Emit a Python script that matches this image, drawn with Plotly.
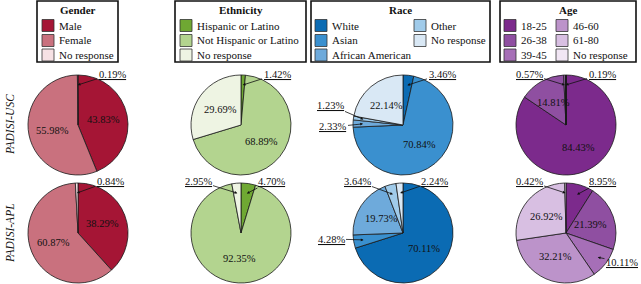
import math
import plotly.graph_objects as go

# ---------------- data ----------------
rows = ["PADISI-USC", "PADISI-APL"]

gender_labels = ["Male", "Female", "No response"]
gender_usc = [43.83, 55.98, 0.19]
gender_apl = [38.29, 60.87, 0.84]

ethnicity_labels = ["Hispanic or Latino", "Not Hispanic or Latino", "No response"]
ethnicity_usc = [1.42, 68.89, 29.69]
ethnicity_apl = [4.70, 92.35, 2.95]

race_labels = ["White", "Asian", "African American", "Other", "No response"]
race_usc = [3.46, 70.84, 2.33, 1.23, 22.14]
race_apl = [70.11, 4.28, 19.73, 3.64, 2.24]

age_labels = ["18-25", "26-38", "39-45", "46-60", "61-80", "No response"]
age_usc = [84.43, 14.81, 0.57, 0.19, 0.0, 0.0]
age_apl = [8.95, 21.39, 10.11, 32.21, 26.92, 0.42]

# ---------------- style ----------------
gender_colors = ["#a51535", "#c9717e", "#f6e1e4"]
ethnicity_colors = ["#6fa833", "#b3d48f", "#eef4e3"]
race_colors = ["#0b6bb3", "#3a90cf", "#6eaadb", "#a0cbea", "#d9e8f5"]
age_colors = ["#7c2a8c", "#8f4fa1", "#a66fb7", "#bc93ca", "#d8bfe2", "#f1e6f4"]

W, H = 641, 284
FONT = "Liberation Serif"
R = 50
ROW_CY = [125, 233]
LEG_ROWS = [25.5, 40.5, 55]

# outside-label placement (text centre offset from pie centre, px)
panels = [
    dict(title="Gender", labels=gender_labels, values=[gender_usc, gender_apl],
         colors=gender_colors, cx=78, box=(37, 118), cols=[42],
         outside=[{"No response": (34, -51)}, {"No response": (32, -52)}]),
    dict(title="Ethnicity", labels=ethnicity_labels, values=[ethnicity_usc, ethnicity_apl],
         colors=ethnicity_colors, cx=241, box=(175, 306), cols=[180],
         outside=[{"Hispanic or Latino": (36, -51)},
                  {"Hispanic or Latino": (30, -52), "No response": (-43, -52)}]),
    dict(title="Race", labels=race_labels, values=[race_usc, race_apl],
         colors=race_colors, cx=403, box=(311, 490), cols=[315, 414],
         outside=[{"White": (39, -51), "Other": (-73, -20), "African American": (-70, 2)},
                  {"Asian": (-72, 6), "Other": (-46, -52), "No response": (32, -52)}]),
    dict(title="Age", labels=age_labels, values=[age_usc, age_apl],
         colors=age_colors, cx=566, box=(500, 636), cols=[504, 556],
         outside=[{"39-45": (-37, -51), "46-60": (36, -51)},
                  {"No response": (-37, -52), "18-25": (36, -52), "39-45": (56, 29)}]),
]


def px(x):
    return x / W


def py(y):
    return 1 - y / H


fig = go.Figure()
annotations = []
shapes = []
lab_font = dict(family=FONT, size=10.5, color="#111")

for p in panels:
    for row, vals in enumerate(p["values"]):
        cx, cy = p["cx"], ROW_CY[row]
        fig.add_trace(go.Pie(
            labels=p["labels"], values=vals, sort=False, direction="clockwise",
            rotation=0, textinfo="none", hoverinfo="label+percent", showlegend=False,
            marker=dict(colors=p["colors"], line=dict(color="#1a1a1a", width=0.8)),
            domain=dict(x=[px(cx - R), px(cx + R)], y=[py(cy + R), py(cy - R)]),
        ))
        total = sum(vals)
        cum = 0.0
        for lab, v in zip(p["labels"], vals):
            if v <= 0:
                continue
            mid = 2 * math.pi * (cum + v / 2) / total
            cum += v
            txt = f"{v:.2f}%"
            if lab in p["outside"][row]:
                dx, dy = p["outside"][row][lab]
                tx = cx + 0.8 * R * math.sin(mid)
                ty = cy - 0.8 * R * math.cos(mid)
                annotations.append(dict(
                    x=px(tx), y=py(ty), xref="paper", yref="paper",
                    text=f"<u>{txt}</u>", showarrow=True,
                    ax=cx + dx - tx, ay=cy + dy - ty,
                    arrowhead=2, arrowsize=0.7, arrowwidth=0.8, arrowcolor="#111",
                    standoff=0, font=lab_font))
            else:
                annotations.append(dict(
                    x=px(cx + 0.52 * R * math.sin(mid)),
                    y=py(cy - 0.52 * R * math.cos(mid)),
                    xref="paper", yref="paper", text=txt, showarrow=False,
                    xanchor="center", yanchor="middle", font=lab_font))

    # legend box
    b0, b1 = p["box"]
    shapes.append(dict(type="rect", xref="paper", yref="paper",
                       x0=px(b0), x1=px(b1), y0=py(62), y1=py(1),
                       line=dict(color="#111", width=1.6), fillcolor="rgba(0,0,0,0)"))
    annotations.append(dict(x=px((b0 + b1) / 2), y=py(9.5), xref="paper", yref="paper",
                            text=f"<b>{p['title']}</b>", showarrow=False,
                            xanchor="center", yanchor="middle",
                            font=dict(family=FONT, size=11, color="#111")))
    per_col = 3
    for i, (lab, col) in enumerate(zip(p["labels"], p["colors"])):
        c, r = divmod(i, per_col)
        sx = p["cols"][c]
        sy = LEG_ROWS[r]
        shapes.append(dict(type="rect", xref="paper", yref="paper",
                           x0=px(sx), x1=px(sx + 12), y0=py(sy + 6), y1=py(sy - 6),
                           fillcolor=col, line=dict(color="#333", width=0.8)))
        annotations.append(dict(x=px(sx + 15), y=py(sy), xref="paper", yref="paper",
                                xanchor="left", yanchor="middle", text=lab,
                                showarrow=False,
                                font=dict(family=FONT, size=11, color="#111")))

for row, name in enumerate(rows):
    annotations.append(dict(x=px(10), y=py(ROW_CY[row]), xref="paper", yref="paper",
                            text=f"<i>{name}</i>", textangle=-90, showarrow=False,
                            xanchor="center", yanchor="middle",
                            font=dict(family=FONT, size=11.5, color="#111")))

fig.update_layout(
    width=W, height=H, margin=dict(l=0, r=0, t=0, b=0),
    paper_bgcolor="white", plot_bgcolor="white",
    annotations=annotations, shapes=shapes, showlegend=False,
)

fig.write_html("out.html", config={"displayModeBar": False},
               post_script="document.body.style.margin='0px';")
